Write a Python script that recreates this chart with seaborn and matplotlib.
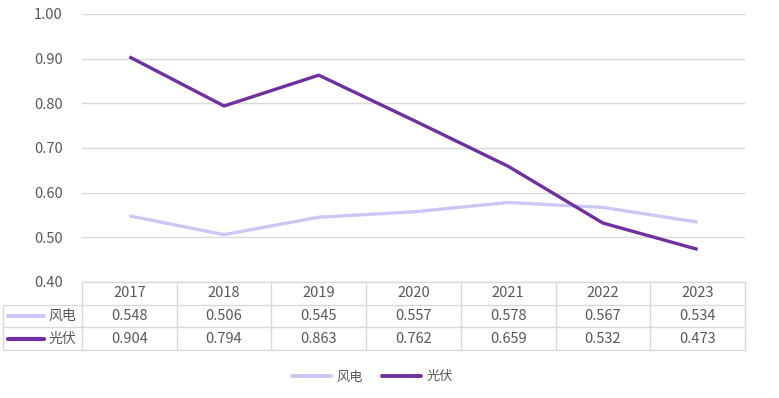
import matplotlib
matplotlib.use("Agg")
import matplotlib.pyplot as plt
import matplotlib.transforms as mtransforms
import seaborn as sns
import pandas as pd

# 数据
years = ["2017", "2018", "2019", "2020", "2021", "2022", "2023"]
wind = [0.548, 0.506, 0.545, 0.557, 0.578, 0.567, 0.534]
solar = [0.904, 0.794, 0.863, 0.762, 0.659, 0.532, 0.473]
series_names = ["风电", "光伏"]
colors = {"风电": "#cbc7f6", "光伏": "#7030a0"}
widths = {"风电": 2.4, "光伏": 2.4}

sns.set_theme(style="white")
plt.rcParams["font.family"] = ["Noto Sans CJK SC", "DejaVu Sans"]

df = pd.concat([
    pd.DataFrame({"year": years, "value": wind, "series": "风电"}),
    pd.DataFrame({"year": years, "value": solar, "series": "光伏"}),
])

fig = plt.figure(figsize=(7.79, 3.98), dpi=100)
ax = fig.add_axes([0.1053, 0.2915, 0.851, 0.6734])

sns.lineplot(data=df, x="year", y="value", hue="series", palette=colors,
             ax=ax, legend=False, sort=False)
for line, name in zip(ax.lines, series_names):
    line.set_linewidth(widths[name])
    line.set_solid_capstyle("butt")

ax.set_xlim(-0.5, len(years) - 0.5)
ax.set_ylim(0.4, 1.0)
ax.set_yticks([0.4, 0.5, 0.6, 0.7, 0.8, 0.9, 1.0])
ax.set_yticklabels([f"{v:.2f}" for v in ax.get_yticks()])
ax.yaxis.grid(True, color="#d9d9d9", linewidth=1)
ax.set_axisbelow(True)
ax.tick_params(axis="y", length=0, pad=14, labelsize=10.5, labelcolor="#595959")
ax.set_xticks([])
ax.set_xlabel("")
ax.set_ylabel("")
for s in ax.spines.values():
    s.set_visible(False)

# 数据表
grid_c = "#d9d9d9"
rh = 0.0847
left = -0.119
trans = mtransforms.blended_transform_factory(ax.transData, ax.transAxes)
n = len(years)

ax.plot([-0.5, n - 0.5], [0, 0], transform=trans, color=grid_c, lw=1, clip_on=False)
for k in range(1, 4):
    ax.plot([left, 1], [-k * rh, -k * rh], transform=ax.transAxes,
            color=grid_c, lw=1, clip_on=False)
for i in range(n + 1):
    ax.plot([i - 0.5, i - 0.5], [0, -3 * rh], transform=trans,
            color=grid_c, lw=1, clip_on=False)
ax.plot([left, left], [-rh, -3 * rh], transform=ax.transAxes,
        color=grid_c, lw=1, clip_on=False)

for i, y in enumerate(years):
    ax.text(i, -0.5 * rh, y, transform=trans, ha="center", va="center",
            fontsize=10.5, color="#595959")
for r, (name, vals) in enumerate(zip(series_names, [wind, solar])):
    yc = -(r + 1.5) * rh
    for i, v in enumerate(vals):
        ax.text(i, yc, f"{v:.3f}", transform=trans, ha="center", va="center",
                fontsize=10.5, color="#595959")
    ax.plot([left + 0.008, left + 0.061], [yc, yc], transform=ax.transAxes,
            color=colors[name], lw=widths[name] + 0.6, clip_on=False,
            solid_capstyle="round")
    ax.text(left + 0.068, yc, name, transform=ax.transAxes, ha="left",
            va="center", fontsize=10, color="#595959")

# 图例
handles = [plt.Line2D([], [], color=colors[nm], lw=widths[nm] + 0.4) for nm in series_names]
fig.legend(handles, series_names, loc="center", bbox_to_anchor=(0.478, 0.053),
           ncol=2, frameon=False, handlelength=3.0, columnspacing=1.4,
           handletextpad=0.4, labelcolor="#595959", prop={"size": 9.5})

fig.savefig("out.png", dpi=100)
